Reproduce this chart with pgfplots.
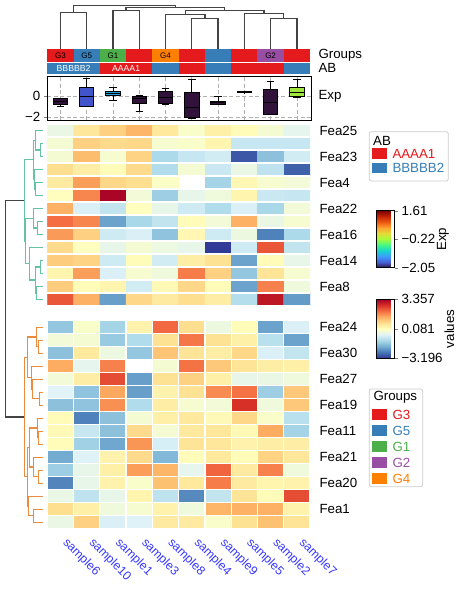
\documentclass[border=0pt]{standalone}
\usepackage{pgfplots}
\pgfplotsset{compat=1.18}
\usepgfplotslibrary{statistics}
\usepackage{fontspec}
\setmainfont{Liberation Sans}
\definecolor{sred}{RGB}{228,26,28}
\definecolor{sblue}{RGB}{55,126,184}
\definecolor{sgreen}{RGB}{77,175,74}
\definecolor{spurple}{RGB}{152,78,163}
\definecolor{sorange}{RGB}{255,127,0}
\definecolor{dteal}{RGB}{102,194,165}
\definecolor{dorange}{RGB}{234,139,62}
\definecolor{dgray}{RGB}{68,68,68}
\definecolor{lblue}{RGB}{55,55,255}
\definecolor{legedge}{RGB}{204,204,204}
\definecolor{gridgray}{RGB}{176,176,176}
\definecolor{bxdark}{RGB}{48,18,59}
\definecolor{bxblue}{RGB}{66,84,204}
\definecolor{bxcyan}{RGB}{40,160,222}
\definecolor{bxgreen}{RGB}{160,230,60}
\pgfplotsset{
  colormap={rdylbur}{rgb255=(49,54,149) rgb255=(69,117,180) rgb255=(116,173,209) rgb255=(171,217,233) rgb255=(224,243,248) rgb255=(255,255,191) rgb255=(254,224,144) rgb255=(253,174,97) rgb255=(244,109,67) rgb255=(215,48,39) rgb255=(165,0,38)},
  colormap={myturbo}{rgb255=(48,18,59) rgb255=(70,98,216) rgb255=(62,156,254) rgb255=(24,214,203) rgb255=(70,247,131) rgb255=(164,252,60) rgb255=(225,221,55) rgb255=(254,165,49) rgb255=(239,90,17) rgb255=(194,36,3) rgb255=(122,4,3)},
  every tick label/.append style={font=\fontsize{13.3bp}{15bp}\selectfont},
  every axis label/.append style={font=\fontsize{13.3bp}{15bp}\selectfont},
  hm/.style={anchor=north west, scale only axis, width=262.7bp, xmin=-0.5, xmax=9.5,
    y dir=reverse, enlargelimits=false, colormap name=rdylbur,
    point meta min=-3.196, point meta max=3.357, axis on top,
    axis line style={draw=none}, minor xtick={-0.5,0.5,...,9.5},
    xminorgrids, yminorgrids, minor grid style={white, line width=1.3bp},
    minor tick length=0pt, major tick length=0pt,
    yticklabel pos=right, yticklabel style={xshift=6bp}},
  cb/.style={scale only axis, hide axis, colorbar,
    colorbar style={at={(parent axis.north west)}, anchor=north west, scale only axis,
      width=18.3bp, ytick pos=right, yticklabel pos=right, tick align=outside,
      major tick length=3.5bp, axis line style={line width=0.8bp}, ylabel shift=-5bp}},
}
\newcommand{\rc}[5]{\addplot[fill=#5, draw=none] coordinates {(#1,#3)(#2,#3)(#2,#4)(#1,#4)};}
\newcommand{\bx}[7]{\addplot[boxplot prepared={draw position=#1, lower whisker=#2, lower quartile=#3, median=#4, upper quartile=#5, upper whisker=#6, box extend=0.55, whisker extend=0.28}, boxplot/draw direction=y, draw=black, line width=1bp, fill=#7] coordinates {};}
\begin{document}
\begin{tikzpicture}[font=\fontsize{13.3bp}{15bp}\selectfont]
\path[use as bounding box] (0,0) rectangle (460bp,-590bp);

% ---------- column dendrogram ----------
\begin{axis}[at={(47.3bp,0bp)}, anchor=north west, scale only axis, width=262.7bp, height=49.3bp,
  xmin=-0.5, xmax=9.5, ymin=0, ymax=49.3, y dir=reverse, hide axis, clip=false]
\addplot[dgray, line width=1.4bp] coordinates {(0,49.3)(0,12.3)(1,12.3)(1,49.3)};
\addplot[dgray, line width=1.4bp] coordinates {(2,49.3)(2,10.3)(3,10.3)(3,49.3)};
\addplot[dgray, line width=1.4bp] coordinates {(5,49.3)(5,18.3)(6,18.3)(6,49.3)};
\addplot[dgray, line width=1.4bp] coordinates {(4,49.3)(4,14.3)(5.5,14.3)(5.5,18.3)};
\addplot[dgray, line width=1.4bp] coordinates {(8,49.3)(8,18.3)(9,18.3)(9,49.3)};
\addplot[dgray, line width=1.4bp] coordinates {(7,49.3)(7,13.3)(8.5,13.3)(8.5,18.3)};
\addplot[dgray, line width=1.4bp] coordinates {(4.75,14.3)(4.75,10.3)(7.75,10.3)(7.75,13.3)};
\addplot[dgray, line width=1.4bp] coordinates {(2.5,10.3)(2.5,7.3)(6.25,7.3)(6.25,10.3)};
\addplot[dgray, line width=1.4bp] coordinates {(0.5,12.3)(0.5,5.3)(4.375,5.3)(4.375,7.3)};
\end{axis}

% ---------- annotation bars ----------
\begin{axis}[at={(47.3bp,-49.3bp)}, anchor=north west, scale only axis, width=262.7bp, height=24.7bp,
  xmin=-0.5, xmax=9.5, ymin=49.3, ymax=74, y dir=reverse, hide axis, clip=false]
\rc{-0.5}{0.5}{49.3}{61.8}{sred}
\rc{0.5}{1.5}{49.3}{61.8}{sblue}
\rc{1.5}{2.5}{49.3}{61.8}{sgreen}
\rc{2.5}{3.5}{49.3}{61.8}{sred}
\rc{3.5}{4.5}{49.3}{61.8}{sorange}
\rc{4.5}{5.5}{49.3}{61.8}{sred}
\rc{5.5}{6.5}{49.3}{61.8}{sblue}
\rc{6.5}{7.5}{49.3}{61.8}{sred}
\rc{7.5}{8.5}{49.3}{61.8}{spurple}
\rc{8.5}{9.5}{49.3}{61.8}{sred}
\rc{-0.5}{1.5}{62.8}{74}{sblue}
\rc{1.5}{3.5}{62.8}{74}{sred}
\rc{3.5}{4.5}{62.8}{74}{sblue}
\rc{4.5}{5.5}{62.8}{74}{sred}
\rc{5.5}{6.5}{62.8}{74}{sblue}
\rc{6.5}{8.5}{62.8}{74}{sred}
\rc{8.5}{9.5}{62.8}{74}{sblue}
\begin{scope}[every node/.style={font=\fontsize{8bp}{9bp}\selectfont, inner sep=0pt}]
\node at (axis cs:0,55.6) {G3};
\node at (axis cs:1,55.6) {G5};
\node at (axis cs:2,55.6) {G1};
\node at (axis cs:4,55.6) {G4};
\node at (axis cs:8,55.6) {G2};
\end{scope}
\begin{scope}[every node/.style={font=\fontsize{8.7bp}{9bp}\selectfont, inner sep=0pt, text=white}]
\node at (axis cs:0.5,68.4) {BBBBB2};
\node at (axis cs:2.5,68.4) {AAAA1};
\end{scope}
\end{axis}

% ---------- boxplots ----------
\begin{axis}[at={(47.3bp,-76.5bp)}, anchor=north west, scale only axis, width=264.6bp, height=43.7bp,
  xmin=-0.5, xmax=9.565, ymin=-2.3, ymax=1.9, xtick={0,1,2,3,4,5,6,7,8,9}, xticklabels={},
  ytick={-2,0}, yticklabels={−2,0}, xmajorgrids, ymajorgrids,
  major grid style={gridgray, dash pattern=on 4bp off 2.5bp, line width=0.8bp},
  axis line style={line width=1.2bp}, ytick pos=left, xtick pos=left, tick align=outside,
  major tick length=3.5bp, xtick style={draw=none}]
\bx{0}{-1.0}{-0.78}{-0.5}{-0.2}{-0.2}{bxdark}
\bx{1}{-0.97}{-0.94}{-0.05}{0.88}{1.75}{bxblue}
\bx{2}{-0.4}{0.08}{0.3}{0.5}{0.85}{bxcyan}
\bx{3}{-1.45}{-0.72}{-0.22}{0.02}{0.05}{bxdark}
\bx{4}{-0.78}{-0.72}{-0.08}{0.47}{0.72}{bxdark}
\bx{5}{-2.12}{-2.06}{-1.04}{0.4}{1.62}{bxdark}
\bx{6}{-0.8}{-0.78}{-0.62}{-0.46}{-0.05}{bxdark}
\bx{7}{0.34}{0.36}{0.42}{0.48}{0.5}{bxdark}
\bx{8}{-1.8}{-1.74}{-0.62}{0.66}{1.4}{bxdark}
\bx{9}{-0.08}{0.02}{0.4}{0.82}{1.65}{bxgreen}
\end{axis}

\node[anchor=west, inner sep=0pt] at (318.3bp,-55.5bp) {Groups};
\node[anchor=west, inner sep=0pt] at (318.3bp,-68.2bp) {AB};
\node[anchor=west, inner sep=0pt] at (318.3bp,-96.5bp) {Exp};

% ---------- heatmap top block ----------
\begin{axis}[hm, at={(47.3bp,-124bp)}, height=182bp, ymin=-0.5, ymax=13.5,
  minor ytick={-0.5,0.5,...,13.5}, xtick=\empty,
  ytick={0,2,4,6,8,10,12}, yticklabels={Fea25,Fea23,Fea4,Fea22,Fea16,Fea14,Fea8}]
\addplot[matrix plot*, mesh/cols=10, point meta=explicit] table[row sep=\\, x=x, y=y, meta=v] {
x y v\\
0 0 -0.35\\ 1 0 0.6\\ 2 0 0.95\\ 3 0 1.3\\ 4 0 0.55\\ 5 0 -0.05\\ 6 0 0.4\\ 7 0 0.15\\ 8 0 -0.15\\ 9 0 -0.45\\
0 1 -0.15\\ 1 1 0.95\\ 2 1 0.8\\ 3 1 0.85\\ 4 1 -0.1\\ 5 1 -0.05\\ 6 1 0.3\\ 7 1 -0.9\\ 8 1 -0.9\\ 9 1 -0.9\\
0 2 -0.15\\ 1 2 1.2\\ 2 2 -0.1\\ 3 2 0.9\\ 4 2 -1.2\\ 5 2 -0.9\\ 6 2 -0.75\\ 7 2 -2.85\\ 8 2 -1.6\\ 9 2 -0.75\\
0 3 0.75\\ 1 3 0.45\\ 2 3 0.15\\ 3 3 0.8\\ 4 3 -1.15\\ 5 3 -0.15\\ 6 3 -0.85\\ 7 3 -0.35\\ 8 3 -1.0\\ 9 3 -2.75\\
0 4 0.5\\ 1 4 1.55\\ 2 4 0.85\\ 3 4 0.75\\ 4 4 0.0\\ 5 4 0.08\\ 6 4 -1.3\\ 7 4 0.25\\ 8 4 -0.1\\ 9 4 -0.2\\
0 5 0.1\\ 1 5 1.8\\ 2 5 3.3\\ 3 5 -0.2\\ 4 5 -1.4\\ 5 5 -0.4\\ 6 5 -0.25\\ 7 5 0.3\\ 8 5 -0.85\\ 9 5 -0.9\\
0 6 1.35\\ 1 6 -0.65\\ 2 6 -0.95\\ 3 6 0.1\\ 4 6 -0.4\\ 5 6 -0.8\\ 6 6 -1.15\\ 7 6 -0.65\\ 8 6 -1.25\\ 9 6 -0.2\\
0 7 2.05\\ 1 7 1.8\\ 2 7 -2.0\\ 3 7 -1.25\\ 4 7 -0.95\\ 5 7 0.15\\ 6 7 -0.2\\ 7 7 1.35\\ 8 7 -0.35\\ 9 7 -0.1\\
0 8 1.6\\ 1 8 0.95\\ 2 8 -0.8\\ 3 8 -0.65\\ 4 8 -1.55\\ 5 8 0.25\\ 6 8 -0.8\\ 7 8 -0.3\\ 8 8 -2.4\\ 9 8 -1.2\\
0 9 0.8\\ 1 9 0.1\\ 2 9 -0.4\\ 3 9 -0.15\\ 4 9 -0.3\\ 5 9 -0.4\\ 6 9 -3.15\\ 7 9 -0.8\\ 8 9 2.3\\ 9 9 -0.95\\
0 10 1.0\\ 1 10 0.9\\ 2 10 -0.8\\ 3 10 0.15\\ 4 10 -0.75\\ 5 10 0.45\\ 6 10 0.7\\ 7 10 -2.0\\ 8 10 0.15\\ 9 10 -0.4\\
0 11 0.3\\ 1 11 1.55\\ 2 11 -0.65\\ 3 11 -0.1\\ 4 11 -0.25\\ 5 11 1.9\\ 6 11 0.95\\ 7 11 -1.5\\ 8 11 0.65\\ 9 11 -0.1\\
0 12 1.0\\ 1 12 0.15\\ 2 12 0.3\\ 3 12 -0.75\\ 4 12 0.2\\ 5 12 0.85\\ 6 12 0.15\\ 7 12 -2.0\\ 8 12 1.85\\ 9 12 -0.25\\
0 13 2.3\\ 1 13 1.35\\ 2 13 -2.05\\ 3 13 0.85\\ 4 13 0.5\\ 5 13 0.75\\ 6 13 0.45\\ 7 13 -1.1\\ 8 13 3.05\\ 9 13 -2.1\\
};
\addplot[fill=white, draw=none] coordinates {(4.5,3.5)(5.5,3.5)(5.5,4.5)(4.5,4.5)};
\end{axis}

% ---------- heatmap bottom block ----------
\begin{axis}[hm, at={(47.3bp,-320.7bp)}, height=208bp, ymin=-0.5, ymax=15.5,
  minor ytick={-0.5,0.5,...,15.5},
  ytick={0,2,4,6,8,10,12,14}, yticklabels={Fea24,Fea30,Fea27,Fea19,Fea11,Fea21,Fea20,Fea1},
  xtick={0,1,2,3,4,5,6,7,8,9},
  xticklabels={sample6,sample10,sample1,sample3,sample8,sample4,sample9,sample5,sample2,sample7},
  xticklabel style={rotate=-45, anchor=north west, text=lblue, inner sep=0pt, xshift=11.6bp, yshift=0.3bp,
    font=\fontsize{12.3bp}{14bp}\selectfont}]
\addplot[matrix plot*, mesh/cols=10, point meta=explicit] table[row sep=\\, x=x, y=y, meta=v] {
x y v\\
0 0 -1.5\\ 1 0 -0.05\\ 2 0 -1.3\\ 3 0 0.35\\ 4 0 2.1\\ 5 0 0.75\\ 6 0 -0.3\\ 7 0 0.15\\ 8 0 -2.0\\ 9 0 -0.65\\
0 1 -0.2\\ 1 1 -0.15\\ 2 1 -1.45\\ 3 1 -1.15\\ 4 1 0.7\\ 5 1 1.95\\ 6 1 0.7\\ 7 1 0.4\\ 8 1 -1.05\\ 9 1 -2.0\\
0 2 -1.6\\ 1 2 0.55\\ 2 2 -0.3\\ 3 2 -1.5\\ 4 2 1.1\\ 5 2 0.65\\ 6 2 0.45\\ 7 2 0.85\\ 8 2 -0.65\\ 9 2 -0.95\\
0 3 1.4\\ 1 3 -0.45\\ 2 3 1.85\\ 3 3 0.08\\ 4 3 -0.15\\ 5 3 2.0\\ 6 3 1.05\\ 7 3 0.65\\ 8 3 0.45\\ 9 3 0.4\\
0 4 -0.2\\ 1 4 0.45\\ 2 4 2.4\\ 3 4 -2.05\\ 4 4 0.7\\ 5 4 0.95\\ 6 4 0.4\\ 7 4 -0.4\\ 8 4 -0.35\\ 9 4 -0.25\\
0 5 -0.55\\ 1 5 -1.55\\ 2 5 1.45\\ 3 5 -2.05\\ 4 5 0.35\\ 5 5 0.7\\ 6 5 1.75\\ 7 5 2.0\\ 8 5 -1.4\\ 9 5 1.05\\
0 6 -1.6\\ 1 6 -1.55\\ 2 6 1.7\\ 3 6 -1.15\\ 4 6 0.45\\ 5 6 -0.1\\ 6 6 -0.2\\ 7 6 2.7\\ 8 6 -0.25\\ 9 6 1.05\\
0 7 0.15\\ 1 7 -2.4\\ 2 7 -1.6\\ 3 7 -0.15\\ 4 7 0.4\\ 5 7 0.55\\ 6 7 0.2\\ 7 7 0.85\\ 8 7 -0.05\\ 9 7 -1.05\\
0 8 0.2\\ 1 8 -0.9\\ 2 8 -1.6\\ 3 8 0.8\\ 4 8 -0.15\\ 5 8 0.55\\ 6 8 0.6\\ 7 8 0.2\\ 8 8 1.4\\ 9 8 -1.3\\
0 9 0.15\\ 1 9 -1.35\\ 2 9 -1.95\\ 3 9 1.65\\ 4 9 -0.7\\ 5 9 0.65\\ 6 9 0.6\\ 7 9 0.35\\ 8 9 0.45\\ 9 9 0.45\\
0 10 -1.9\\ 1 10 -0.6\\ 2 10 0.35\\ 3 10 0.8\\ 4 10 -1.7\\ 5 10 0.15\\ 6 10 0.55\\ 7 10 0.15\\ 8 10 0.9\\ 9 10 0.6\\
0 11 -1.4\\ 1 11 -0.4\\ 2 11 0.4\\ 3 11 1.55\\ 4 11 1.3\\ 5 11 -0.45\\ 6 11 2.15\\ 7 11 0.5\\ 8 11 1.85\\ 9 11 -0.25\\
0 12 -2.35\\ 1 12 -0.4\\ 2 12 0.35\\ 3 12 -0.05\\ 4 12 1.15\\ 5 12 0.55\\ 6 12 1.9\\ 7 12 0.5\\ 8 12 0.3\\ 9 12 0.35\\
0 13 -0.35\\ 1 13 -1.0\\ 2 13 -0.4\\ 3 13 0.3\\ 4 13 -1.0\\ 5 13 -2.3\\ 6 13 -0.95\\ 7 13 0.65\\ 8 13 0.15\\ 9 13 2.4\\
0 14 0.75\\ 1 14 0.4\\ 2 14 -0.25\\ 3 14 -0.1\\ 4 14 0.35\\ 5 14 -0.25\\ 6 14 1.3\\ 7 14 1.35\\ 8 14 1.35\\ 9 14 0.35\\
0 15 -0.35\\ 1 15 0.95\\ 2 15 -0.65\\ 3 15 -0.6\\ 4 15 0.5\\ 5 15 0.5\\ 6 15 -0.05\\ 7 15 0.7\\ 8 15 1.15\\ 9 15 0.65\\
};
\addplot[fill=white, draw=none] coordinates {(2.5,2.5)(3.5,2.5)(3.5,3.5)(2.5,3.5)};
\end{axis}

% ---------- row dendrogram ----------
\begin{axis}[at={(0bp,-120bp)}, anchor=north west, scale only axis, width=47.3bp, height=415bp,
  xmin=0, xmax=47.3, ymin=120, ymax=535, y dir=reverse, hide axis, clip=false]
\addplot[dteal, line width=1.3bp] coordinates {(43.3,143.5)(40.3,143.5)(40.3,156.5)(43.3,156.5)};
\addplot[dteal, line width=1.3bp] coordinates {(43.3,130.5)(35.7,130.5)(35.7,150)(40.3,150)};
\addplot[dteal, line width=1.3bp] coordinates {(43.3,182.5)(35.7,182.5)(35.7,195.5)(43.3,195.5)};
\addplot[dteal, line width=1.3bp] coordinates {(43.3,169.5)(34.3,169.5)(34.3,189)(35.7,189)};
\addplot[dteal, line width=1.3bp] coordinates {(35.7,140.25)(33.7,140.25)(33.7,179.25)(34.3,179.25)};
\addplot[dteal, line width=1.3bp] coordinates {(43.3,221.5)(37.3,221.5)(37.3,234.5)(43.3,234.5)};
\addplot[dteal, line width=1.3bp] coordinates {(43.3,208.5)(33.7,208.5)(33.7,228)(37.3,228)};
\addplot[dteal, line width=1.3bp] coordinates {(43.3,260.5)(40.3,260.5)(40.3,273.5)(43.3,273.5)};
\addplot[dteal, line width=1.3bp] coordinates {(43.3,286.5)(36.3,286.5)(36.3,299.5)(43.3,299.5)};
\addplot[dteal, line width=1.3bp] coordinates {(40.3,267)(35.7,267)(35.7,293)(36.3,293)};
\addplot[dteal, line width=1.3bp] coordinates {(43.3,247.5)(29.3,247.5)(29.3,280)(35.7,280)};
\addplot[dteal, line width=1.3bp] coordinates {(33.7,218.25)(25.7,218.25)(25.7,263.75)(29.3,263.75)};
\addplot[dteal, line width=1.3bp] coordinates {(33.7,159.75)(24.3,159.75)(24.3,241)(25.7,241)};
\addplot[dorange, line width=1.3bp] coordinates {(43.3,340.2)(38.3,340.2)(38.3,353.2)(43.3,353.2)};
\addplot[dorange, line width=1.3bp] coordinates {(43.3,327.2)(36.3,327.2)(36.3,346.7)(38.3,346.7)};
\addplot[dorange, line width=1.3bp] coordinates {(43.3,392.2)(39.3,392.2)(39.3,405.2)(43.3,405.2)};
\addplot[dorange, line width=1.3bp] coordinates {(43.3,379.2)(32.3,379.2)(32.3,398.7)(39.3,398.7)};
\addplot[dorange, line width=1.3bp] coordinates {(43.3,366.2)(31.3,366.2)(31.3,389)(32.3,389)};
\addplot[dorange, line width=1.3bp] coordinates {(36.3,337)(27.3,337)(27.3,377.6)(31.3,377.6)};
\addplot[dorange, line width=1.3bp] coordinates {(43.3,431.2)(38.3,431.2)(38.3,444.2)(43.3,444.2)};
\addplot[dorange, line width=1.3bp] coordinates {(43.3,418.2)(37.7,418.2)(37.7,437.7)(38.3,437.7)};
\addplot[dorange, line width=1.3bp] coordinates {(43.3,470.2)(38.3,470.2)(38.3,483.2)(43.3,483.2)};
\addplot[dorange, line width=1.3bp] coordinates {(43.3,457.2)(33.3,457.2)(33.3,476.7)(38.3,476.7)};
\addplot[dorange, line width=1.3bp] coordinates {(37.7,428)(29.3,428)(29.3,467)(33.3,467)};
\addplot[dorange, line width=1.3bp] coordinates {(43.3,509.2)(33.3,509.2)(33.3,522.2)(43.3,522.2)};
\addplot[dorange, line width=1.3bp] coordinates {(43.3,496.2)(28.3,496.2)(28.3,515.7)(33.3,515.7)};
\addplot[dorange, line width=1.3bp] coordinates {(29.3,447.5)(27.3,447.5)(27.3,506)(28.3,506)};
\addplot[dorange, line width=1.3bp] coordinates {(27.3,357.3)(24.3,357.3)(24.3,476.7)(27.3,476.7)};
\addplot[dgray, line width=1.3bp] coordinates {(24.3,200.4)(5.3,200.4)(5.3,417)(24.3,417)};
\end{axis}

% ---------- colorbars ----------
\begin{axis}[cb, at={(367.7bp,-210.7bp)}, anchor=north west, width=18.3bp, height=57bp,
  colormap name=myturbo, point meta min=-2.05, point meta max=1.61,
  colorbar style={height=57bp, ytick={-2.05,-0.22,1.61}, yticklabels={−2.05,−0.22,1.61}, ylabel={Exp}}]
\addplot[draw=none] coordinates {(0,0)};
\end{axis}
\begin{axis}[cb, at={(367.7bp,-299.3bp)}, anchor=north west, width=18.3bp, height=59bp,
  colormap name=rdylbur, point meta min=-3.196, point meta max=3.357,
  colorbar style={height=59bp, ytick={-3.196,0.081,3.357}, yticklabels={−3.196,0.081,3.357}, ylabel={values}}]
\addplot[draw=none] coordinates {(0,0)};
\end{axis}

% ---------- legends ----------
\draw[rounded corners=2bp, legedge, fill=white, line width=0.8bp] (369.3bp,-131.7bp) rectangle (448.3bp,-181bp);
\node[anchor=west, inner sep=0pt] at (373bp,-140.5bp) {AB};
\fill[sred] (371.7bp,-148.3bp) rectangle (387.3bp,-159bp);
\node[anchor=west, inner sep=0pt, text=sred] at (392.3bp,-153.7bp) {AAAA1};
\fill[sblue] (371.7bp,-162.7bp) rectangle (387.3bp,-173.3bp);
\node[anchor=west, inner sep=0pt, text=sblue] at (392.3bp,-168bp) {BBBBB2};

\draw[rounded corners=2bp, legedge, fill=white, line width=0.8bp] (369.3bp,-389bp) rectangle (422.7bp,-486.7bp);
\node[anchor=west, inner sep=0pt] at (373.3bp,-397.5bp) {Groups};
\fill[sred] (371.7bp,-409.3bp) rectangle (387.3bp,-420bp);
\node[anchor=west, inner sep=0pt, text=sred] at (392.3bp,-414.7bp) {G3};
\fill[sblue] (371.7bp,-425.3bp) rectangle (387.3bp,-436bp);
\node[anchor=west, inner sep=0pt, text=sblue] at (392.3bp,-430.7bp) {G5};
\fill[sgreen] (371.7bp,-441.3bp) rectangle (387.3bp,-452bp);
\node[anchor=west, inner sep=0pt, text=sgreen] at (392.3bp,-446.7bp) {G1};
\fill[spurple] (371.7bp,-457.3bp) rectangle (387.3bp,-468bp);
\node[anchor=west, inner sep=0pt, text=spurple] at (392.3bp,-462.7bp) {G2};
\fill[sorange] (371.7bp,-473.3bp) rectangle (387.3bp,-484bp);
\node[anchor=west, inner sep=0pt, text=sorange] at (392.3bp,-478.7bp) {G4};
\end{tikzpicture}
\end{document}
